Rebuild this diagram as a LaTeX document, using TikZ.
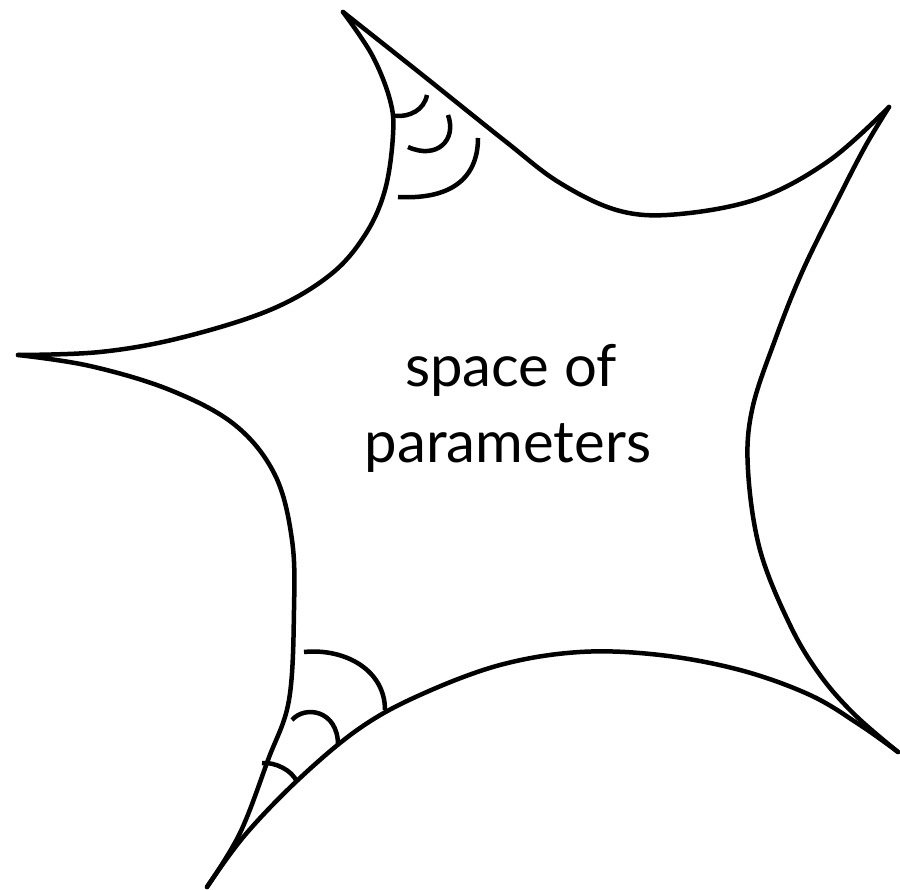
\documentclass[tikz,border=0pt]{standalone}
\usepackage{fontspec}
\setmainfont{Lato}
\begin{document}
\begin{tikzpicture}[x=1pt,y=-1pt,
  edge/.style={line width=4.5pt, line cap=round, line join=round},
  lbl/.style={font=\fontsize{58}{76}\selectfont, anchor=base, inner sep=0pt}]
\useasboundingbox (0,0) rectangle (900,890);
% outer curves
\draw[edge] plot[smooth, tension=0.6] coordinates {(343,12) (420,73) (505,141) (560,183) (620,211) (680,214) (760,198) (830,160) (889,107)};
\draw[edge] plot[smooth, tension=0.6] coordinates {(343,12) (372,55) (390,100) (393,135) (385,190) (365,235) (330,275) (270,310) (180,338) (100,352) (18,355)};
\draw[edge] plot[smooth, tension=0.6] coordinates {(18,355) (90,366) (170,390) (235,425) (275,475) (292,540) (294,610) (289,700) (268,760) (240,833) (207,887)};
\draw[edge] plot[smooth, tension=0.6] coordinates {(207,887) (245,835) (300,778) (360,728) (420,695) (500,665) (580,652) (660,655) (740,670) (810,695) (860,725) (898,752)};
\draw[edge] plot[smooth, tension=0.6] coordinates {(889,107) (866,145) (840,195) (803,270) (775,340) (752,410) (748,470) (760,550) (790,625) (820,675) (855,715) (898,752)};
% angle marks, top
\draw[edge, line cap=butt] (427,95) .. controls (424,110) and (410,117) .. (395,116);
\draw[edge, line cap=butt] (448,115) .. controls (457,140) and (437,160) .. (408,147);
\draw[edge, line cap=butt] (478,138) .. controls (478,175) and (455,200) .. (398,197);
% angle marks, bottom
\draw[edge, line cap=butt] (304,652) .. controls (345,648) and (385,670) .. (385,710);
\draw[edge, line cap=butt] (292,720) .. controls (305,705) and (338,710) .. (338,745);
\draw[edge, line cap=butt] (262,763) .. controls (275,762) and (292,770) .. (297,782);
% label
\node[lbl] (label1) at (511,387) {space of};
\node[lbl] (label2) at (508,463) {parameters};
\end{tikzpicture}
\end{document}
